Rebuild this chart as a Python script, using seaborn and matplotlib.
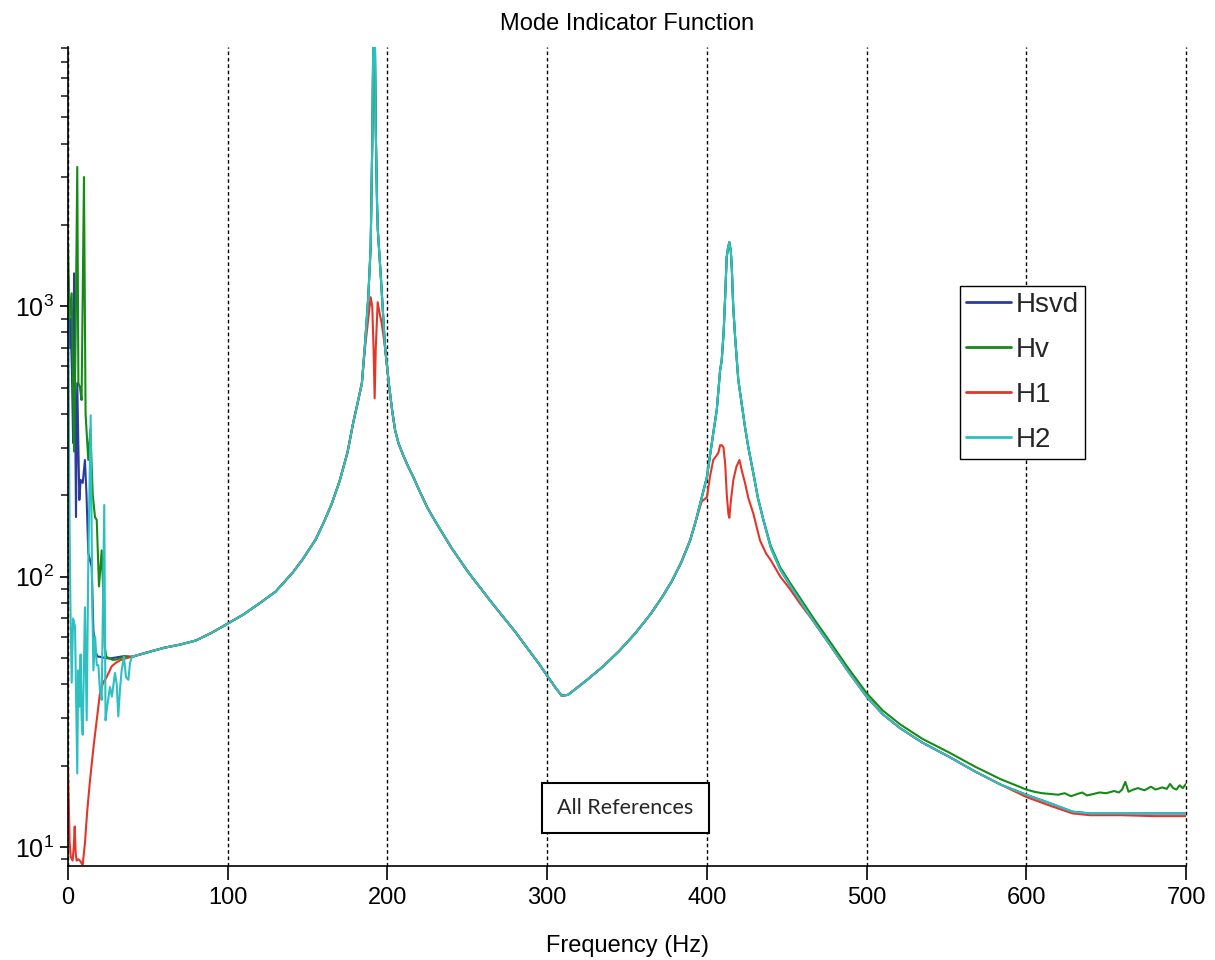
import numpy as np
import pandas as pd
import matplotlib
matplotlib.use("Agg")
import matplotlib.pyplot as plt
import seaborn as sns
from matplotlib.ticker import LogLocator, NullFormatter, FixedLocator

# ---------------- data ----------------
series_names = ["Hsvd", "Hv", "H1", "H2"]
series_colors = ["#2b3c9c", "#168a16", "#e2362a", "#2cc0c0"]
x_tick_values = [0, 100, 200, 300, 400, 500, 600, 700]

# low-frequency part (0 - 40 Hz), each series separately
hsvd_low_freq = [0, 0.8, 1.6, 2.5, 3.2, 3.8, 4.5, 5.0, 5.8, 6.5, 7.1, 7.9, 9.2,
                 10.6, 11.6, 12.7, 14.8, 15.9, 17.0, 18.5, 20.0, 23.0, 26.0, 30.0, 35.0]
hsvd_low_val = [1216, 700, 900, 556, 312, 1324, 400, 166, 520, 300, 192, 228, 222,
                270, 200, 122, 109, 63.5, 53.4, 50.6, 50.5, 50.0, 49.8, 50.2, 50.8]

hv_low_freq = [0, 1.0, 2.3, 3.0, 3.8, 4.8, 5.8, 6.5, 7.5, 8.5, 10.0, 11.0, 12.7, 14.0,
               15.5, 16.9, 18.0, 19.4, 21.1, 22.1, 23.0, 24.0, 26.0, 28.0, 30.0, 32.0, 35.0]
hv_low_val = [1710, 900, 1117, 600, 290, 800, 3275, 520, 500, 450, 3006, 400, 270, 350,
              200, 166, 162, 92, 125, 87, 55, 50.5, 49.8, 49.2, 49.3, 49.8, 50.5]

h1_low_freq = [0, 1.0, 1.7, 2.9, 3.6, 4.2, 4.8, 5.4, 6.5, 7.5, 8.5, 9.2, 10.6, 12.0,
               13.8, 16.0, 18.0, 20.0, 22.0, 24.2, 27.3, 30.0, 32.6, 36.0]
h1_low_val = [19.5, 10.5, 9.2, 8.9, 10.0, 11.9, 9.5, 8.9, 9.0, 8.9, 8.7, 8.6, 10.3, 13.5,
              17.7, 23.5, 29.4, 37.0, 40.5, 42.5, 46.5, 48.0, 49.0, 49.8]

h2_low_freq = [0, 0.5, 1.0, 1.5, 2.3, 3.2, 4.4, 5.8, 6.4, 7.1, 7.9, 8.5, 9.2, 10.6,
               11.7, 12.7, 14.2, 15.2, 15.9, 17.0, 18.0, 19.0, 20.0, 21.1, 22.7, 23.5,
               24.5, 26.3, 27.5, 29.4, 30.5, 31.5, 32.5, 33.6, 35.0, 36.3, 37.8, 38.8]
h2_low_val = [1175, 400, 149, 80, 40.5, 70, 65.3, 18.7, 45, 33, 51.5, 30, 26, 77,
              29.4, 112, 395, 80, 45, 60, 47, 47, 38, 35, 184, 29.4,
              33, 39, 36, 44, 40, 30.4, 38, 45, 50.6, 42.5, 41.5, 47.8]

# main curve 40 - 700 Hz (Hsvd and H2 lie on top of each other here)
main_freq = [40, 50, 60, 70, 80, 90, 100, 110, 120, 130, 141, 147, 155, 160, 165, 170,
             175, 178.5, 181, 184, 186, 188, 189.5, 190.5, 191.3, 192.0, 192.7, 193.5,
             194, 196, 198.5, 201, 203, 204.8, 207, 210, 213, 216, 220, 225, 230, 235,
             240, 245, 250, 255, 260, 265, 270, 275, 280, 285, 290, 295, 300, 305, 309,
             313, 318, 325, 335, 345, 355, 365, 372, 378, 384, 389.5,
             393, 396.8, 400, 404, 406.2, 408.3, 409.3, 410.5, 411.5, 412.4, 413.3, 414.1,
             415, 415.6, 416.5, 417.7, 419.7, 421.5, 423.9, 426, 429.1, 432, 435.4, 440,
             446, 452, 458, 467, 477, 488, 500, 510, 521, 535, 552, 568, 584, 600, 615,
             629, 640, 660, 680, 700]
main_val = [50.5, 52.5, 54.5, 56.0, 58.0, 62.0, 67.0, 72.5, 79.7, 88.0, 104, 116, 137, 158,
            185, 225, 288, 369, 430, 519, 730, 1080, 1652, 4000, 12000, 12000, 4500, 2400,
            1910, 1248, 706, 510, 410, 348, 310, 280, 255, 235, 208, 180, 160, 143,
            128, 116, 105, 96, 88, 80.5, 74, 68, 62.5, 57, 52, 47.5, 43, 39, 36.3,
            36.5, 38.5, 41.5, 46.5, 53, 61.5, 73, 84, 96, 113, 136,
            160, 196, 233, 339, 413, 580, 631, 800, 1100, 1517, 1650, 1725,
            1600, 1394, 1000, 768, 533, 450, 357, 300, 241, 195, 162, 128,
            106, 93, 82, 68, 56, 45, 36, 31, 27.5, 24.3, 21.5, 19.0, 17.0, 15.6, 14.5,
            13.5, 13.3, 13.3, 13.3, 13.3]

# Hv differs from the main curve above ~440 Hz
hv_tail_freq = [440, 446, 452, 458, 467, 477, 488, 500, 510, 521, 535, 552, 568, 584,
                600, 605, 610, 615, 620, 624, 628, 632, 635, 638, 642, 646, 650, 655, 658,
                660, 662, 664, 667, 670, 674, 678, 681, 685, 688, 690, 692, 694, 696, 698, 700]
hv_tail_val = [130, 108, 95, 84, 69.8, 57.5, 46.3, 37.1, 32.0, 28.4, 25.1, 22.3, 19.8, 17.8,
               16.3, 16.0, 15.8, 15.7, 15.6, 15.8, 15.4, 15.7, 15.9, 15.5, 15.7, 15.9, 15.8,
               16.1, 15.9, 16.3, 17.4, 16.0, 16.3, 16.5, 16.2, 16.7, 16.3, 16.6, 16.4,
               17.1, 16.5, 16.3, 16.9, 16.5, 17.1]

# H1 differs around the two resonances and in the tail
h1_peak1_freq = [184, 186, 188, 189.5, 190.5, 191.3, 192.0, 192.7, 193.9, 195.0, 196.4, 198.5]
h1_peak1_val = [519, 706, 900, 1080, 1000, 700, 457, 700, 1035, 950, 865, 706]
h1_peak2_freq = [396.8, 400, 402, 404, 406, 407.2, 408.3, 409.5, 410.4, 411.5, 412.5,
                 413.5, 414.1, 415, 416.6, 418.5, 420.4, 422, 423.9, 426, 429.1, 433.3,
                 437, 440, 446, 452, 458]
h1_peak2_val = [190, 196, 235, 270, 280, 287, 306, 306, 301, 260, 200,
                170, 165, 190, 228, 255, 270, 245, 222, 195, 171, 136,
                122, 115, 100, 90, 80]
h1_tail_freq = [600, 615, 629, 640, 660, 680, 700]
h1_tail_val = [15.3, 14.2, 13.3, 13.1, 13.1, 13.0, 13.0]


def splice(base_f, base_v, seg_f, seg_v):
    lo, hi = min(seg_f), max(seg_f)
    pts = [(f, v) for f, v in zip(base_f, base_v) if f < lo or f > hi]
    pts += list(zip(seg_f, seg_v))
    pts.sort()
    return [p[0] for p in pts], [p[1] for p in pts]


hsvd_f = hsvd_low_freq + main_freq
hsvd_v = hsvd_low_val + main_val
h2_f = h2_low_freq + main_freq
h2_v = h2_low_val + main_val
hv_f, hv_v = splice(main_freq, main_val, hv_tail_freq, hv_tail_val)
hv_f, hv_v = hv_low_freq + hv_f, hv_low_val + hv_v
h1_f, h1_v = splice(main_freq, main_val, h1_peak1_freq, h1_peak1_val)
h1_f, h1_v = splice(h1_f, h1_v, h1_peak2_freq, h1_peak2_val)
h1_f, h1_v = splice(h1_f, h1_v, h1_tail_freq, h1_tail_val)
h1_f, h1_v = (h1_low_freq + [f for f in h1_f if f > 36],
              h1_low_val + [v for f, v in zip(h1_f, h1_v) if f > 36])

frames = []
for name, fs, vs in [("Hsvd", hsvd_f, hsvd_v), ("Hv", hv_f, hv_v),
                     ("H1", h1_f, h1_v), ("H2", h2_f, h2_v)]:
    frames.append(pd.DataFrame({"Frequency": fs, "Value": vs, "Series": name}))
df = pd.concat(frames, ignore_index=True)

# ---------------- plotting ----------------
sns.set_style("ticks")
plt.rcParams["font.family"] = ["Liberation Sans", "DejaVu Sans"]

fig = plt.figure(figsize=(12.15, 9.6), dpi=100)
ax = fig.add_axes([68 / 1215, 1 - 866 / 960, (1186 - 68) / 1215, (866 - 47) / 960])

# vertical dashed grid
for xv in x_tick_values:
    ax.axvline(xv, color="black", lw=1.0, ls=(0, (2.6, 2.0)), zorder=0.5, clip_on=False)

sns.lineplot(data=df, x="Frequency", y="Value", hue="Series", hue_order=series_names,
             palette=dict(zip(series_names, series_colors)), estimator=None,
             sort=True, linewidth=1.5, ax=ax)

ax.set_yscale("log")
ax.set_xlim(0, 700)
ax.set_ylim(8.5, 9100)
ax.xaxis.set_major_locator(FixedLocator(x_tick_values))
ax.yaxis.set_major_locator(LogLocator(base=10))
ax.yaxis.set_minor_locator(LogLocator(base=10, subs=np.arange(2, 10)))
ax.yaxis.set_minor_formatter(NullFormatter())

for side in ["top", "right"]:
    ax.spines[side].set_visible(False)
for side in ["left", "bottom"]:
    ax.spines[side].set_color("black")
    ax.spines[side].set_linewidth(1.2)

ax.tick_params(axis="x", which="major", direction="out", length=10, width=1.2,
               labelsize=17, colors="black", pad=5)
ax.tick_params(axis="y", which="major", direction="out", length=6, width=1.2,
               labelsize=18, colors="black", pad=4)
ax.tick_params(axis="y", which="minor", direction="out", length=5, width=1.2)

ax.set_xlabel("Frequency (Hz)", fontsize=17, labelpad=19, color="black")
ax.set_ylabel("")
ax.set_title("Mode Indicator Function", fontsize=17, pad=12, color="black")

leg = ax.legend(loc="upper left", bbox_to_anchor=((960 - 68) / 1118, (866 - 286) / 819),
                fontsize=20, frameon=True, fancybox=False, framealpha=1,
                edgecolor="black", handlelength=1.6, labelspacing=0.68,
                borderpad=0.22, handletextpad=0.18, borderaxespad=0)
leg.get_frame().set_linewidth(1.0)
for line in leg.get_lines():
    line.set_linewidth(2.0)

ax.text((625.5 - 68) / 1118, (866 - 808) / 819, "All References", transform=ax.transAxes,
        ha="center", va="center", fontsize=15.5, family=["Lato", "DejaVu Sans"],
        bbox=dict(boxstyle="square,pad=0.7", fc="white", ec="black", lw=1.5), zorder=5)

fig.savefig("out.png", dpi=100)
